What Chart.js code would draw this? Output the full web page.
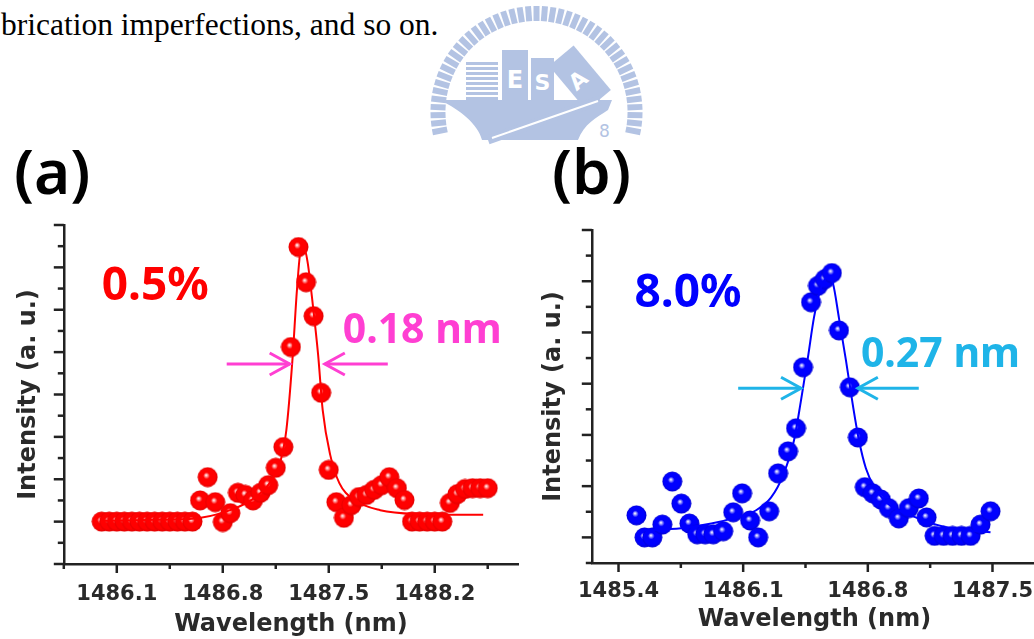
<!DOCTYPE html>
<html>
<head>
<meta charset="utf-8">
<title>Lasing spectra</title>
<script src="https://cdn.jsdelivr.net/npm/chart.js@4.4.1/dist/chart.umd.min.js"></script>
<style>
  html, body { margin: 0; padding: 0; background: #fff; overflow: hidden; }
  #page { position: relative; width: 1034px; height: 639px; overflow: hidden; }
  .abs { position: absolute; }
  #topline { left: 1px; top: 9px; font: 31.5px "Liberation Serif", serif; color: #000; white-space: nowrap; line-height: 1; }
  .panel { font: 600 62px "Noto Sans", sans-serif; color: #000; line-height: 1; }
</style>
</head>
<body>
<div id="page">
  <div id="topline" class="abs">brication imperfections, and so on.</div>

  <!-- watermark -->
  <svg class="abs" style="left:0;top:0" width="1034" height="200" viewBox="0 0 1034 200">
    <g id="rays" stroke="#b3c3e3" stroke-width="6"></g>
    <g fill="#b3c3e3">
      <path d="M440 100 L612 100 L608 110 C596 118 584 124 578 140 L482 140 C478 124 460 110 440 100 Z"/>
      <rect x="466" y="62" width="32" height="3"/>
      <rect x="466" y="67" width="32" height="3"/>
      <rect x="466" y="72" width="32" height="3"/>
      <rect x="466" y="77" width="32" height="3"/>
      <rect x="466" y="82" width="32" height="3"/>
      <rect x="466" y="87" width="32" height="3"/>
      <rect x="466" y="92" width="32" height="3"/>
      <rect x="466" y="97" width="32" height="3"/>
      <rect x="502" y="50" width="26" height="52"/>
      <rect x="531" y="58" width="23" height="44"/>
      <g transform="rotate(-40 580 78)"><rect x="564" y="49" width="32" height="58"/></g>
      <text x="599" y="137" font-family="DejaVu Sans" font-size="17">8</text>
    </g>
    <g fill="#fff" font-family="DejaVu Sans" font-weight="bold" text-anchor="middle">
      <text x="515" y="88" font-size="24">E</text>
      <text x="542.5" y="90" font-size="22">S</text>
      <text x="0" y="0" font-size="22" transform="translate(583 86) rotate(-40)">A</text>
    </g>
    <line x1="488" y1="140" x2="600" y2="100" stroke="#b3c3e3" stroke-width="9"/>
    <line x1="492" y1="138" x2="598" y2="101" stroke="#fff" stroke-width="2"/>
  </svg>

  <div class="abs panel" style="left:14px;top:139px">(a)</div>
  <div class="abs panel" style="left:552px;top:139px">(b)</div>

  <canvas id="chartA" class="abs" width="530" height="439" style="left:0;top:200px"></canvas>
  <canvas id="chartB" class="abs" width="530" height="439" style="left:520px;top:200px"></canvas>
</div>

<script>
// ---- panel (a): 0.5 % ----
const wlA = [1486.00, 1486.05, 1486.10, 1486.15, 1486.20, 1486.25, 1486.30, 1486.35, 1486.40, 1486.45,
             1486.50, 1486.55, 1486.60, 1486.65, 1486.70, 1486.75, 1486.80, 1486.85, 1486.90, 1486.95,
             1487.00, 1487.05, 1487.10, 1487.15, 1487.20, 1487.25, 1487.30, 1487.35, 1487.40, 1487.45,
             1487.50, 1487.55, 1487.60, 1487.65, 1487.70, 1487.75, 1487.80, 1487.85, 1487.90, 1487.95,
             1488.00, 1488.05, 1488.10, 1488.15, 1488.20, 1488.25, 1488.30, 1488.35, 1488.40, 1488.45,
             1488.50, 1488.55];
const intA = [1.00, 1.00, 1.00, 1.00, 1.00, 1.00, 1.00, 1.00, 1.00, 1.00,
              1.00, 1.00, 1.00, 1.50, 2.05, 1.46, 0.99, 1.20, 1.68, 1.63,
              1.50, 1.68, 1.86, 2.27, 2.76, 5.12, 7.48, 6.65, 5.85, 4.04,
              2.22, 1.46, 1.09, 1.39, 1.58, 1.63, 1.75, 1.86, 2.05, 1.79,
              1.51, 1.00, 1.00, 1.00, 1.00, 1.00, 1.44, 1.65, 1.77, 1.79,
              1.79, 1.79];
const fitWlA = [1486.00, 1486.30, 1486.58, 1486.85, 1487.01, 1487.11, 1487.18, 1487.22, 1487.26, 1487.29, 1487.315,
                1487.335, 1487.36, 1487.395, 1487.43, 1487.46, 1487.51, 1487.57, 1487.67, 1487.84, 1488.10, 1488.52];
const fitA = [1.02, 1.04, 1.06, 1.27, 1.56, 1.91, 2.41, 3.16, 4.81, 6.47, 7.41,
              7.48, 7.13, 6.11, 4.93, 3.63, 2.57, 1.91, 1.51, 1.27, 1.18, 1.16];
const xMajorA = [1486.1, 1486.8, 1487.5, 1488.2];
const xMinorA = [1485.75, 1486.45, 1487.15, 1487.85, 1488.55];
const yMajorA = [0, 1, 2, 3, 4, 5, 6, 7, 8];
const yMinorA = [0.5, 1.5, 2.5, 3.5, 4.5, 5.5, 6.5, 7.5];

// ---- panel (b): 8.0 % ----
const wlB = [1485.501, 1485.546, 1485.590, 1485.646, 1485.702, 1485.753, 1485.798, 1485.842, 1485.887, 1485.932,
             1485.988, 1486.044, 1486.094, 1486.139, 1486.184, 1486.246, 1486.296, 1486.352, 1486.397, 1486.436,
             1486.481, 1486.520, 1486.559, 1486.598, 1486.638, 1486.699, 1486.744, 1486.783, 1486.828, 1486.873,
             1486.918, 1486.974, 1487.030, 1487.086, 1487.130, 1487.175, 1487.226, 1487.276, 1487.326, 1487.377,
             1487.433, 1487.489];
const intB = [0.43, 0.00, 0.00, 0.25, 1.09, 0.66, 0.27, 0.06, 0.06, 0.06,
              0.12, 0.49, 0.86, 0.33, 0.00, 0.51, 1.25, 1.68, 2.13, 3.32,
              4.59, 4.91, 5.04, 5.16, 4.04, 2.93, 1.95, 0.98, 0.86, 0.74,
              0.57, 0.37, 0.57, 0.76, 0.39, 0.03, 0.03, 0.03, 0.03, 0.03,
              0.25, 0.51];
const fitWlB = [1485.529, 1485.753, 1485.921, 1486.061, 1486.173, 1486.257, 1486.324, 1486.386, 1486.425, 1486.464,
                1486.498, 1486.537, 1486.576, 1486.604, 1486.638, 1486.677, 1486.716, 1486.750, 1486.789, 1486.834,
                1486.912, 1487.041, 1487.237, 1487.489];
const fitB = [0.14, 0.18, 0.27, 0.39, 0.53, 0.78, 1.21, 1.90, 2.68, 3.52,
              4.30, 4.87, 5.08, 4.96, 4.28, 3.46, 2.58, 1.90, 1.35, 1.00,
              0.66, 0.43, 0.20, 0.10];
const xMajorB = [1485.4, 1486.1, 1486.8, 1487.5];
const xMinorB = [1485.75, 1486.45, 1487.15];
const yMajorB = [0, 1, 2, 3, 4, 5, 6];
const yMinorB = [-0.5, 0.5, 1.5, 2.5, 3.5, 4.5, 5.5];

// watermark rays
const rays = document.getElementById('rays');
for (let k = 0; k <= 44; k++) {
  const t = (-101 + k * 202 / 44) * Math.PI / 180;
  const l = document.createElementNS('http://www.w3.org/2000/svg', 'line');
  l.setAttribute('x1', 536.5 + 91 * Math.sin(t)); l.setAttribute('y1', 112 - 91 * Math.cos(t));
  l.setAttribute('x2', 536.5 + 106 * Math.sin(t)); l.setAttribute('y2', 112 - 106 * Math.cos(t));
  rays.appendChild(l);
}

Chart.defaults.font.family = '"DejaVu Sans", sans-serif';

// shaded ball used as marker
function ball(hi, mid, edge) {
  const cv = document.createElement('canvas');
  cv.width = cv.height = 21;
  const g = cv.getContext('2d');
  const gr = g.createRadialGradient(9, 8.5, 0.5, 10.5, 10.5, 10.5);
  gr.addColorStop(0, hi);
  gr.addColorStop(0.28, mid);
  gr.addColorStop(0.75, mid);
  gr.addColorStop(1, edge);
  g.fillStyle = gr;
  g.beginPath();
  g.arc(10.5, 10.5, 10, 0, Math.PI * 2);
  g.fill();
  return cv;
}

// tick marks, labels in the plot and FWHM arrows
const axisDecor = {
  id: 'axisDecor',
  afterDraw(chart, args, o) {
    const {ctx, chartArea: ca, scales: {x, y}} = chart;
    ctx.save();
    ctx.strokeStyle = '#222';
    ctx.lineWidth = 2.5;
    const seg = (x1, y1, x2, y2) => { ctx.beginPath(); ctx.moveTo(x1, y1); ctx.lineTo(x2, y2); ctx.stroke(); };
    o.xMajor.forEach(v => { const p = x.getPixelForValue(v); seg(p, ca.bottom, p, ca.bottom + 9); });
    o.xMinor.forEach(v => { const p = x.getPixelForValue(v); seg(p, ca.bottom, p, ca.bottom + 5); });
    o.yMajor.forEach(v => { const p = y.getPixelForValue(v); seg(ca.left, p, ca.left - 10, p); });
    o.yMinor.forEach(v => { const p = y.getPixelForValue(v); seg(ca.left, p, ca.left - 6, p); });

    o.arrows.forEach(a => {
      const py = y.getPixelForValue(a.y), tail = x.getPixelForValue(a.from), tip = x.getPixelForValue(a.to);
      const d = tip > tail ? 1 : -1;
      ctx.strokeStyle = a.color;
      ctx.lineWidth = 3;
      seg(tail, py, tip, py);
      ctx.beginPath();
      ctx.moveTo(tip - d * 20, py - 11); ctx.lineTo(tip, py); ctx.lineTo(tip - d * 20, py + 11);
      ctx.stroke();
    });

    ctx.textAlign = 'left';
    ctx.textBaseline = 'alphabetic';
    o.notes.forEach(n => {
      ctx.fillStyle = n.color;
      ctx.font = n.font;
      ctx.fillText(n.text, x.getPixelForValue(n.x), y.getPixelForValue(n.y));
    });
    ctx.restore();
  }
};

function build(id, pts, fit, color, o) {
  return new Chart(document.getElementById(id), {
    type: 'scatter',
    data: {
      datasets: [
        { data: fit, showLine: true, borderColor: color, borderWidth: 2, pointRadius: 0,
          cubicInterpolationMode: 'monotone', order: 0, clip: false },
        { data: pts, pointStyle: o.ball, pointRadius: 10, order: 1, clip: false }
      ]
    },
    options: {
      responsive: false,
      animation: false,
      events: [],
      layout: { padding: o.pad },
      plugins: {
        legend: { display: false },
        tooltip: { enabled: false },
        axisDecor: o.decor
      },
      scales: {
        x: {
          type: 'linear', min: o.xMin, max: o.xMax,
          afterBuildTicks: s => { s.ticks = o.decor.xMajor.map(v => ({ value: v })); },
          // tick marks are drawn by axisDecor; tickLength only sets the label gap
          grid: { display: false, drawTicks: true, tickLength: o.labelGap },
          border: { display: true, color: '#222', width: 2.5 },
          ticks: { padding: 0, color: '#2a2a2a', autoSkip: false, maxRotation: 0,
                   font: { size: 21, weight: 'bold' }, callback: v => v.toFixed(1) },
          title: { display: true, text: 'Wavelength (nm)', color: '#2a2a2a',
                   font: { size: 24, weight: 'bold' }, padding: o.xTitlePad }
        },
        y: {
          type: 'linear', min: o.yMin, max: o.yMax,
          grid: { display: false, drawTicks: false },
          border: { display: true, color: '#222', width: 2.5 },
          ticks: { display: false },
          title: { display: true, text: 'Intensity (a. u.)', color: '#2a2a2a',
                   font: { size: 24, weight: 'bold' }, padding: o.yTitlePad }
        }
      }
    },
    plugins: [axisDecor]
  });
}

build('chartA',
  wlA.map((v, i) => ({ x: v, y: intA[i] })),
  fitWlA.map((v, i) => ({ x: v, y: fitA[i] })),
  '#ff0000', {
    ball: ball('#ffe6e6', '#ff0000', '#d80000'),
    pad: { left: 0, top: 25, right: 12, bottom: 0 },
    xMin: 1485.75, xMax: 1488.75, yMin: 0, yMax: 8,
    labelGap: 18, xTitlePad: { top: 3, bottom: 0 }, yTitlePad: { top: 14, bottom: 21 },
    decor: {
      xMajor: xMajorA, xMinor: xMinorA, yMajor: yMajorA, yMinor: yMinorA,
      arrows: [
        { from: 1486.826, to: 1487.242, y: 4.72, color: '#ff3fd2' },
        { from: 1487.890, to: 1487.474, y: 4.72, color: '#ff3fd2' }
      ],
      notes: [
        { text: '0.5%', x: 1486.0, y: 6.23, color: '#ff0000', font: 'bold 46px "Noto Sans"' },
        { text: '0.18 nm', x: 1487.592, y: 5.215, color: '#ff3fd2', font: 'bold 41px "Noto Sans"' }
      ]
    }
  });

build('chartB',
  wlB.map((v, i) => ({ x: v, y: intB[i] })),
  fitWlB.map((v, i) => ({ x: v, y: fitB[i] })),
  '#0000ff', {
    ball: ball('#e6e6ff', '#0000ff', '#0000c8'),
    pad: { left: 0, top: 30, right: 13, bottom: 0 },
    xMin: 1485.25, xMax: 1487.75, yMin: -0.5, yMax: 6,
    labelGap: 16, xTitlePad: { top: 1, bottom: 5 }, yTitlePad: { top: 19, bottom: 24 },
    decor: {
      xMajor: xMajorB, xMinor: xMinorB, yMajor: yMajorB, yMinor: yMinorB,
      arrows: [
        { from: 1486.072, to: 1486.425, y: 2.91, color: '#1fb4e8' },
        { from: 1487.086, to: 1486.744, y: 2.91, color: '#1fb4e8' }
      ],
      notes: [
        { text: '8.0%', x: 1485.49, y: 4.495, color: '#0000ff', font: 'bold 46px "Noto Sans"' },
        { text: '0.27 nm', x: 1486.761, y: 3.32, color: '#1fb4e8', font: 'bold 41px "Noto Sans"' }
      ]
    }
  });
</script>
</body>
</html>
